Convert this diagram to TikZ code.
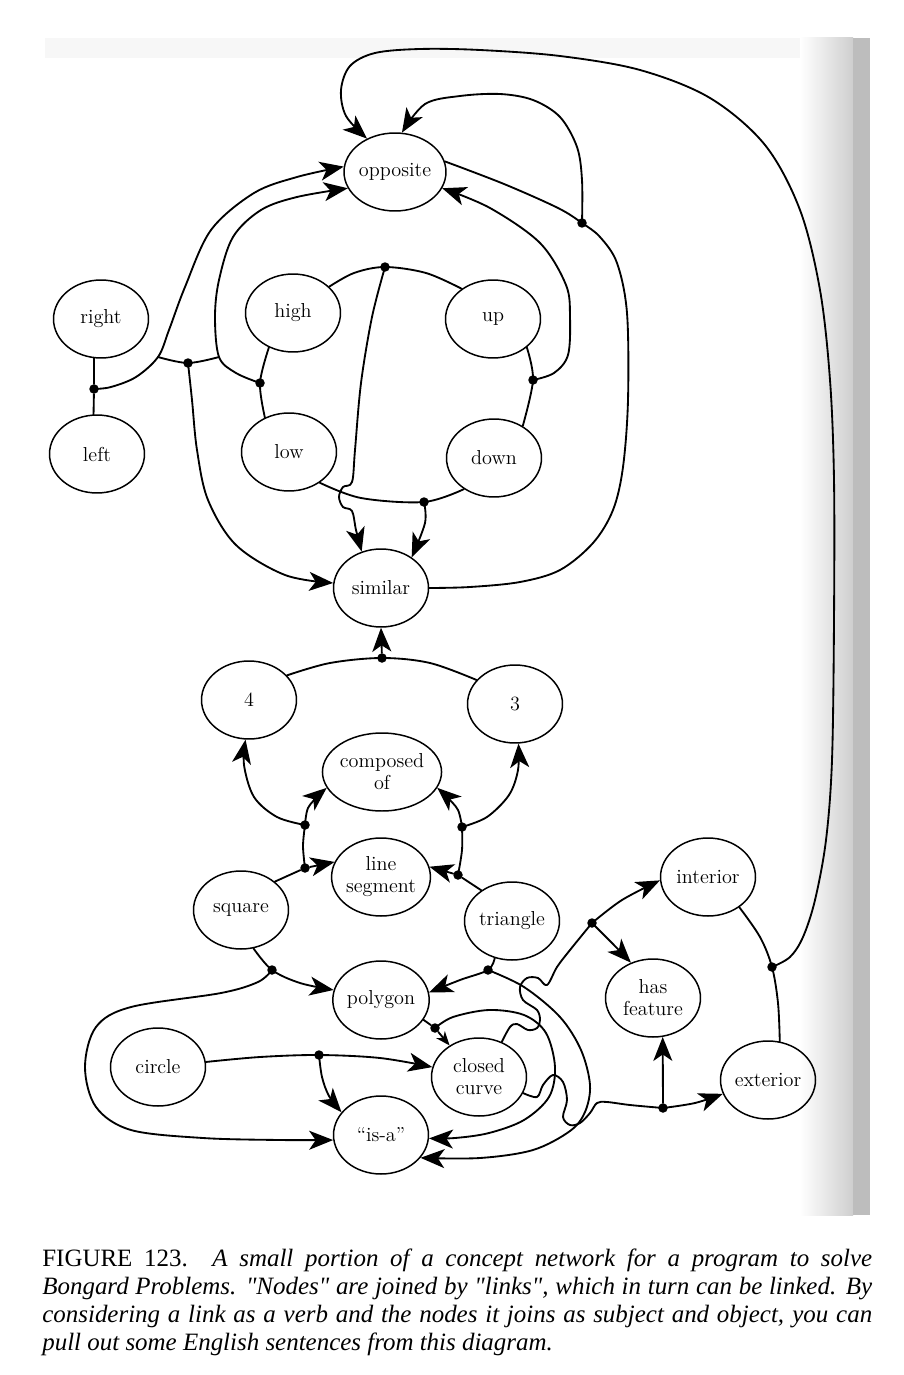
\documentclass[tikz,border=0pt]{standalone}
\usepackage{fontspec}
\newfontfamily\capfont{Liberation Serif}
\usetikzlibrary{arrows.meta,shapes.geometric}
\begin{document}
\begin{tikzpicture}[x=0.02cm,y=-0.02cm,
  concept/.style={ellipse,draw,line width=0.85pt,minimum width=1.9cm,minimum height=1.56cm,inner sep=0pt,align=center,font=\fontsize{11.5}{12.5}\selectfont},
  link/.style={line width=1.05pt,line cap=round,line join=round},
  arr/.style={link,-{Stealth[length=0.48cm,width=0.38cm,inset=0.13cm]}},
  sarr/.style={link,-{Stealth[length=0.28cm,width=0.22cm,inset=0.08cm]}},
  dot/.style={circle,fill,inner sep=0pt,minimum size=0.19cm},
  sm/.style={smooth,tension=0.55}]
\useasboundingbox (0,0) rectangle (903,1375);
\fill[white] (0,0) rectangle (903,1375);
% scan traces
\fill[gray!6] (45,38) rectangle (800,58);
\shade[left color=white,right color=gray!38] (800,38) rectangle (853,1215);
\fill[gray!52] (853,38) rectangle (870,1215);

% concept nodes
\node[concept] (opp) at (395,172) {opposite};
\node[concept] (right) at (101,319) {right};
\node[concept] (left) at (97,454) {left};
\node[concept] (high) at (293,313) {high};
\node[concept] (up) at (493,319) {up};
\node[concept] (low) at (289,452) {low};
\node[concept] (down) at (494,458) {down};
\node[concept] (sim) at (381,588) {similar};
\node[concept] (four) at (249,700) {4};
\node[concept] (three) at (515,704) {3};
\node[concept] (comp) at (382,772) {composed\\of};
\node[concept] (lseg) at (381,877) {line\\segment};
\node[concept] (square) at (241,910) {square};
\node[concept] (tri) at (512,921) {triangle};
\node[concept] (poly) at (381,1000) {polygon};
\node[concept] (circle) at (158,1067) {circle};
\node[concept] (cc) at (479,1077) {closed\\curve};
\node[concept] (isa) at (381,1135) {“is-a”};
\node[concept] (interior) at (708,877) {interior};
\node[concept] (hasf) at (653,998) {has\\feature};
\node[concept] (exterior) at (768,1080) {exterior};

% link dots
\node[dot] (drl) at (94,389) {};
\node[dot] (dhl) at (260,383) {};
\node[dot] (dud) at (533,380) {};
\node[dot] (dar) at (188,363) {};
\node[dot] (dhu) at (385,267) {};
\node[dot] (dld) at (424,502) {};
\node[dot] (dos) at (582,223) {};
\node[dot] (d43) at (382,658) {};
\node[dot] (c1) at (305,825) {};
\node[dot] (l1) at (305,868) {};
\node[dot] (c2) at (462,827) {};
\node[dot] (l2) at (458,875) {};
\node[dot] (dsp) at (272,970) {};
\node[dot] (dtp) at (488,970) {};
\node[dot] (dpc) at (435,1028) {};
\node[dot] (dcc) at (319,1055) {};
\node[dot] (dhf) at (592,923) {};
\node[dot] (dex) at (663,1108) {};
\node[dot] (die) at (772,967) {};
\coordinate (jr) at (158,357);
\coordinate (jh) at (219,357);

% top part
\draw[link] (right.260) -- (drl) -- (left.95);
\draw[arr] plot[sm] coordinates {(drl) (111,387) (136,377) (jr) (169,330) (185,287) (211,230) (254,193) (297,177) (opp.174)};
\draw[link] plot[sm] coordinates {(high.235) (dhl) (low.125)};
\draw[arr] plot[sm] coordinates {(dhl) (236,373) (jh) (215,317) (219,280) (233,237) (261,210) (297,197) (opp.199)};
\draw[link] plot[sm] coordinates {(jr) (dar) (jh)};
\draw[arr] plot[sm] coordinates {(dar) (192,400) (197,450) (208,500) (236,545) (285,575) (sim.174)};
\draw[link] plot[sm] coordinates {(up.320) (dud) (down.48)};
\draw[arr] plot[sm] coordinates {(dud) (554,373) (568,355) (570,317) (566,285) (540,243) (490,208) (opp.341)};
\draw[link] plot[sm] coordinates {(high.36) (354,273) (dhu) (426,273) (up.136)};
\draw[link] plot[sm] coordinates {(low.315) (361,498) (dld) (down.226)};
\draw[arr] plot[sm] coordinates {(dhu) (372,317) (361,383) (355,450) (352,482) (343,487) (339,497) (343,507) (352,511) (356,530) (sim.118)};
\draw[arr] plot[sm] coordinates {(dld) (425,523) (sim.45)};
\draw[link] plot[sm] coordinates {(opp.12) (504,184) (558,208) (dos) (600,237) (617,263) (627,313) (628,400) (623,467) (613,510) (593,543) (560,570) (520,582) (470,587) (sim.0)};
\draw[arr] plot[sm] coordinates {(dos) (582,180) (577,147) (560,117) (533,100) (500,94) (460,96) (425,104) (opp.80)};
\draw[arr] plot[sm] coordinates {(die) (790,957) (803,937) (815,900) (826,840) (832,760) (834,620) (834,480) (830,380) (820,290) (800,210) (765,145) (710,98) (640,70) (560,56) (480,50) (420,49) (375,53) (350,66) (341,90) (346,116) (opp.130)};
\draw[link] plot[sm] coordinates {(interior.316) (760,937) (die) (778,1003) (exterior.73)};

% middle part
\draw[link] plot[sm] coordinates {(four.33) (330,663) (d43) (430,663) (three.148)};
\draw[arr] (d43) -- (sim.south);
\draw[arr] (square.40) -- (l1) -- (lseg.162);
\draw[arr] (tri.135) -- (l2) -- (lseg.12);
\draw[link] plot[sm] coordinates {(l1) (303,846) (c1)};
\draw[arr] plot[sm] coordinates {(c1) (277,817) (254,797) (244,765) (four.265)};
\draw[arr] plot[sm] coordinates {(c1) (308,808) (319,795) (comp.196)};
\draw[link] plot[sm] coordinates {(l2) (462,850) (c2)};
\draw[arr] plot[sm] coordinates {(c2) (487,817) (509,795) (518,770) (three.275)};
\draw[arr] plot[sm] coordinates {(c2) (458,810) (447,797) (comp.344)};

% bottom part
\draw[arr] plot[sm] coordinates {(square.288) (dsp) (300,983) (poly.168)};
\draw[arr] plot[sm] coordinates {(tri.245) (dtp) (460,980) (poly.9)};
\draw[arr] plot[sm] coordinates {(dsp) (258,982) (221,993) (131,1007) (96,1027) (85,1067) (96,1107) (131,1130) (203,1138) (280,1140) (isa.186)};
\draw[arr] plot[sm] coordinates {(dtp) (524,987) (560,1017) (581,1050) (590,1085) (585,1112) (570,1131) (533,1150) (480,1158) (isa.330)};
\draw[sarr] (poly.335) -- (dpc) -- (cc.133);
\draw[arr] plot[sm] coordinates {(dpc) (453,1017) (489,1010) (524,1015) (546,1033) (555,1067) (549,1097) (524,1120) (489,1133) (455,1138) (isa.356)};
\draw[arr] plot[sm] coordinates {(circle.6) (260,1057) (dcc) (380,1058) (cc.168)};
\draw[arr] plot[sm] coordinates {(dcc) (322,1077) (329,1096) (isa.150)};
\draw[link] plot[sm] coordinates {(cc.57) (510,1027) (517,1024) (528,1030) (537,1028) (540,1020) (537,1010) (523,1000) (520,987) (527,978) (538,978) (547,985) (557,967) (570,950) (dhf)};
\draw[arr] plot[sm] coordinates {(dhf) (622,900) (interior.184)};
\draw[arr] plot[sm] coordinates {(dhf) (612,943) (hasf.122)};
\draw[link] plot[sm] coordinates {(cc.340) (537,1097) (543,1085) (553,1075) (563,1082) (567,1100) (563,1117) (570,1125) (580,1123) (590,1113) (597,1103) (607,1102) (630,1105) (dex)};
\draw[arr] plot[sm] coordinates {(dex) (695,1103) (exterior.197)};
\draw[arr] (dex) -- (hasf.284);

% caption
\node[anchor=north west,inner sep=0pt,text width=16.6cm,align=justify,
  font=\capfont\fontsize{14.2}{15.9}\selectfont] (caption) at (42,1249)
  {FIGURE 123. \textit{A small portion of a concept network for a program to solve\linebreak
  Bongard Problems. "Nodes" are joined by "links", which in turn can be linked. By\linebreak
  considering a link as a verb and the nodes it joins as subject and object, you can\linebreak
  pull out some English sentences from this diagram.}};
\end{tikzpicture}
\end{document}
